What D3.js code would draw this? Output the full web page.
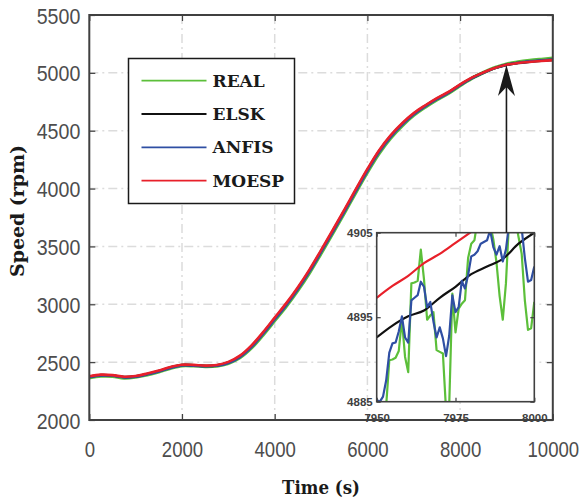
<!DOCTYPE html>
<html><head><meta charset="utf-8">
<script src="https://cdn.jsdelivr.net/npm/d3@7"></script>
<style>body{margin:0;background:#fff}svg{display:block}</style>
</head><body><script>
// ---------- data ----------
const seriesNames = ["REAL", "ELSK", "ANFIS", "MOESP"];
const seriesColors = ["#5cbf3a", "#111111", "#2f4fa3", "#e8202a"];

const timeMain = [0,250,500,750,1000,1250,1500,1750,2000,2250,2500,2750,3000,3250,3500,3750,4000,4250,4500,4750,5000,5250,5500,5750,6000,6250,6500,6750,7000,7250,7500,7750,8000,8250,8500,8750,9000,9250,9500,9750,10000];
const realMain  = [2366,2380,2379,2364,2372,2391,2417,2448,2470,2469,2463,2467,2490,2540,2624,2737,2860,2984,3121,3273,3441,3613,3788,3968,4143,4304,4437,4544,4634,4705,4768,4824,4890,4951,5001,5045,5075,5093,5106,5116,5125];
const elskMain  = [2374,2388,2385,2371,2377,2398,2424,2454,2475,2473,2467,2472,2497,2550,2638,2752,2877,3002,3139,3291,3459,3631,3806,3986,4161,4322,4453,4558,4646,4715,4777,4831,4897,4955,5001,5041,5069,5085,5096,5105,5112];
const anfisMain = [2370,2384,2382,2368,2374,2395,2420,2450,2472,2470,2465,2469,2493,2544,2630,2744,2868,2993,3130,3282,3450,3622,3797,3977,4152,4313,4445,4551,4640,4710,4772,4827,4893,4952,5000,5041,5070,5087,5099,5108,5116];
const moespMain = [2378,2392,2388,2374,2380,2402,2428,2458,2478,2476,2470,2476,2502,2556,2645,2760,2885,3010,3148,3300,3468,3640,3815,3995,4170,4330,4460,4565,4652,4720,4782,4835,4900,4958,5003,5042,5070,5085,5095,5103,5110];

const xTicks = [0,2000,4000,6000,8000,10000];
const yTicks = [2000,2500,3000,3500,4000,4500,5000,5500];

// inset (zoom 7950-8000 s)
const timeInset = [7950,7951,7952,7953,7954,7955,7956,7957,7958,7959,7960,7961,7962,7963,7964,7965,7966,7967,7968,7969,7970,7971,7972,7973,7974,7975,7976,7977,7978,7979,7980,7981,7982,7983,7984,7985,7986,7987,7988,7989,7990,7991,7992,7993,7994,7995,7996,7997,7998,7999,8000];
const realInset = [4883,4882,4883,4884.5,4889.9,4890,4890.2,4891,4894.7,4890.3,4888.5,4899,4899.1,4899.3,4903,4899.5,4894.7,4895.2,4895.6,4891.1,4890.9,4890.7,4884,4884.5,4897.8,4893.2,4896,4896.6,4897,4902,4903.7,4904.1,4906.5,4907,4906,4907.5,4906,4904.2,4901.5,4897.5,4894.7,4899,4906.5,4907.5,4906.5,4904.5,4902.5,4897,4893.5,4893.7,4896.8];
const anfisInset = [4885.2,4885,4885.6,4887.5,4890.8,4891.9,4892,4893.3,4895.1,4892.6,4892,4897,4897.3,4897.6,4899.2,4898.6,4896.2,4896.8,4894.5,4892.6,4893.8,4892.5,4890.4,4892.8,4897.6,4895.6,4896.2,4899.3,4898.4,4900,4902.2,4902.4,4902.8,4903.7,4903.9,4904.1,4905.3,4903.3,4902.4,4903.4,4901.6,4903,4906,4907,4906.5,4907,4905.5,4902,4899.2,4899.4,4901];
const timeInsetSmooth = [7950,7955,7960,7965,7970,7975,7980,7985,7990,7995,8000];
const elskInset  = [4892.6,4894.0,4895.1,4895.8,4897.3,4898.6,4900.1,4901.0,4901.9,4903.7,4905.0];
const moespInset = [4897.3,4898.7,4899.9,4901.4,4902.5,4903.8,4905.1,4906.4,4907.7,4909.0,4910.3];
const xTicksInset = [7950,7975,8000];
const yTicksInset = [4885,4895,4905];
const arrowTarget = [9000, 5068];

// ---------- drawing ----------
const W = 581, H = 499;
const svg = d3.select("body").append("svg").attr("width", W).attr("height", H);
const P = {l: 89.3, r: 552.8, t: 15, b: 420};
const x = d3.scaleLinear().domain([0, 10000]).range([P.l, P.r]);
const y = d3.scaleLinear().domain([2000, 5500]).range([P.b, P.t]);

const gridCol = "#dcdcdc";
const axisCol = "#404040";
const tickFont = "'Liberation Sans', Arial, sans-serif";
const slab = "'DejaVu Serif', serif";

// grid
const grid = svg.append("g");
grid.selectAll("line.gx").data(xTicks.filter(d => d > 0 && d < 10000)).join("line")
  .attr("x1", d => x(d)).attr("x2", d => x(d)).attr("y1", P.t).attr("y2", P.b)
  .attr("stroke", gridCol).attr("stroke-width", 1.5).attr("stroke-dasharray", "9,4,2,4");
grid.selectAll("line.gy").data(yTicks.filter(d => d > 2000 && d < 5500)).join("line")
  .attr("y1", d => y(d)).attr("y2", d => y(d)).attr("x1", P.l).attr("x2", P.r)
  .attr("stroke", gridCol).attr("stroke-width", 1.5).attr("stroke-dasharray", "9,4,2,4");

// main lines
svg.append("clipPath").attr("id", "cm").append("rect")
  .attr("x", P.l).attr("y", P.t).attr("width", P.r - P.l).attr("height", P.b - P.t);
const mainSeries = [realMain, elskMain, anfisMain, moespMain];
const lineMain = d3.line().curve(d3.curveCatmullRom).x((d, i) => x(timeMain[i])).y(d => y(d));
const gm = svg.append("g").attr("clip-path", "url(#cm)");
mainSeries.forEach((s, k) => {
  gm.append("path").attr("d", lineMain(s)).attr("fill", "none")
    .attr("stroke", seriesColors[k]).attr("stroke-width", k === 0 ? 3.6 : 2.6)
    .attr("stroke-linejoin", "round");
});

// legend
const lg = svg.append("g");
lg.append("rect").attr("x", 128.5).attr("y", 58.5).attr("width", 166).attr("height", 145)
  .attr("fill", "#fff").attr("stroke", "#1a1a1a").attr("stroke-width", 1.5);
seriesNames.forEach((n, i) => {
  const yy = 80.7 + i * 33.3;
  lg.append("line").attr("x1", 141.5).attr("x2", 206.5).attr("y1", yy).attr("y2", yy)
    .attr("stroke", seriesColors[i]).attr("stroke-width", 1.8);
  lg.append("text").attr("x", 212.5).attr("y", yy + 6).text(n)
    .attr("font-family", slab).attr("font-weight", "bold").attr("font-size", 17).attr("fill", "#1a1a1a");
});

// inset
const I = {l: 376.7, r: 534.3, t: 232.7, b: 401.7};
const xi = d3.scaleLinear().domain([7950, 8000]).range([I.l, I.r]);
const yi = d3.scaleLinear().domain([4885, 4905]).range([I.b, I.t]);
const gi = svg.append("g");
gi.append("rect").attr("x", I.l).attr("y", I.t).attr("width", I.r - I.l).attr("height", I.b - I.t).attr("fill", "#fff");
svg.append("clipPath").attr("id", "ci").append("rect")
  .attr("x", I.l).attr("y", I.t).attr("width", I.r - I.l).attr("height", I.b - I.t);
const gil = gi.append("g").attr("clip-path", "url(#ci)");
const lineI = d3.line().x((d, i) => xi(timeInset[i])).y(d => yi(d));
const lineIs = d3.line().curve(d3.curveCatmullRom).x((d, i) => xi(timeInsetSmooth[i])).y(d => yi(d));
gil.append("path").attr("d", lineI(realInset)).attr("fill", "none").attr("stroke", seriesColors[0]).attr("stroke-width", 2.2).attr("stroke-linejoin", "round");
gil.append("path").attr("d", lineIs(elskInset)).attr("fill", "none").attr("stroke", seriesColors[1]).attr("stroke-width", 2.2);
gil.append("path").attr("d", lineI(anfisInset)).attr("fill", "none").attr("stroke", seriesColors[2]).attr("stroke-width", 2.2).attr("stroke-linejoin", "round");
gil.append("path").attr("d", lineIs(moespInset)).attr("fill", "none").attr("stroke", seriesColors[3]).attr("stroke-width", 2.2);

function styleAxis(g, fs, bold) {
  g.select(".domain").remove();
  g.selectAll(".tick line").attr("stroke", axisCol).attr("stroke-width", 1.2);
  return g.selectAll(".tick text").attr("font-family", tickFont).attr("font-size", fs)
    .attr("font-weight", bold ? "bold" : "normal").attr("fill", bold ? "#404040" : "#4d4d4d");
}
const fmt = d3.format("d");
styleAxis(gi.append("g").attr("transform", `translate(0,${I.b})`)
  .call(d3.axisBottom(xi).tickValues(xTicksInset).tickFormat(fmt).tickSizeInner(-4).tickSizeOuter(0).tickPadding(12.5)), 11.5, true);
styleAxis(gi.append("g").attr("transform", `translate(${I.l},0)`)
  .call(d3.axisLeft(yi).tickValues(yTicksInset).tickFormat(fmt).tickSizeInner(-4).tickSizeOuter(0).tickPadding(4)), 11.5, true);
styleAxis(gi.append("g").attr("transform", `translate(0,${I.t})`)
  .call(d3.axisTop(xi).tickValues(xTicksInset).tickFormat("").tickSizeInner(-4).tickSizeOuter(0)), 11.5, true);
styleAxis(gi.append("g").attr("transform", `translate(${I.r},0)`)
  .call(d3.axisRight(yi).tickValues(yTicksInset).tickFormat("").tickSizeInner(-4).tickSizeOuter(0)), 11.5, true);
gi.append("rect").attr("x", I.l).attr("y", I.t).attr("width", I.r - I.l).attr("height", I.b - I.t)
  .attr("fill", "none").attr("stroke", axisCol).attr("stroke-width", 1.6);

// arrow
const ax = x(arrowTarget[0]), ay = y(arrowTarget[1]);
svg.append("line").attr("x1", ax).attr("x2", ax).attr("y1", I.t).attr("y2", ay + 20)
  .attr("stroke", "#1a1a1a").attr("stroke-width", 1.6);
svg.append("path").attr("d", `M${ax},${ay} L${ax + 8.5},${ay + 31} L${ax},${ay + 22} L${ax - 8.5},${ay + 31} Z`)
  .attr("fill", "#1a1a1a");

// main axes (labels slightly tall/narrow as in the reference)
const xa = svg.append("g").attr("transform", `translate(0,${P.b})`)
  .call(d3.axisBottom(x).tickValues(xTicks).tickFormat(fmt).tickSizeInner(-6).tickSizeOuter(0));
styleAxis(xa, 18.6, false)
  .attr("y", 0).attr("dy", 0).attr("transform", "translate(0,36.5) scale(1,1.18)");
const ya = svg.append("g").attr("transform", `translate(${P.l},0)`)
  .call(d3.axisLeft(y).tickValues(yTicks).tickFormat(fmt).tickSizeInner(-6).tickSizeOuter(0));
styleAxis(ya, 19.6, false)
  .attr("x", 0).attr("dy", 0).attr("transform", "translate(-9,8) scale(1,1.15)");
styleAxis(svg.append("g").attr("transform", `translate(0,${P.t})`)
  .call(d3.axisTop(x).tickValues(xTicks).tickFormat("").tickSizeInner(-6).tickSizeOuter(0)), 19, false);
styleAxis(svg.append("g").attr("transform", `translate(${P.r},0)`)
  .call(d3.axisRight(y).tickValues(yTicks).tickFormat("").tickSizeInner(-6).tickSizeOuter(0)), 19, false);
svg.append("rect").attr("x", P.l).attr("y", P.t).attr("width", P.r - P.l).attr("height", P.b - P.t)
  .attr("fill", "none").attr("stroke", axisCol).attr("stroke-width", 2);

// axis titles
svg.append("text").attr("x", 321).attr("y", 494).attr("text-anchor", "middle")
  .attr("font-family", slab).attr("font-weight", "bold").attr("font-size", 19).attr("fill", "#1a1a1a")
  .attr("textLength", 78).attr("lengthAdjust", "spacingAndGlyphs")
  .text("Time (s)");
svg.append("text").attr("transform", `translate(24,211) rotate(-90)`).attr("text-anchor", "middle")
  .attr("font-family", slab).attr("font-weight", "bold").attr("font-size", 18.5).attr("fill", "#1a1a1a")
  .attr("textLength", 132).attr("lengthAdjust", "spacingAndGlyphs")
  .text("Speed (rpm)");
</script></body></html>
